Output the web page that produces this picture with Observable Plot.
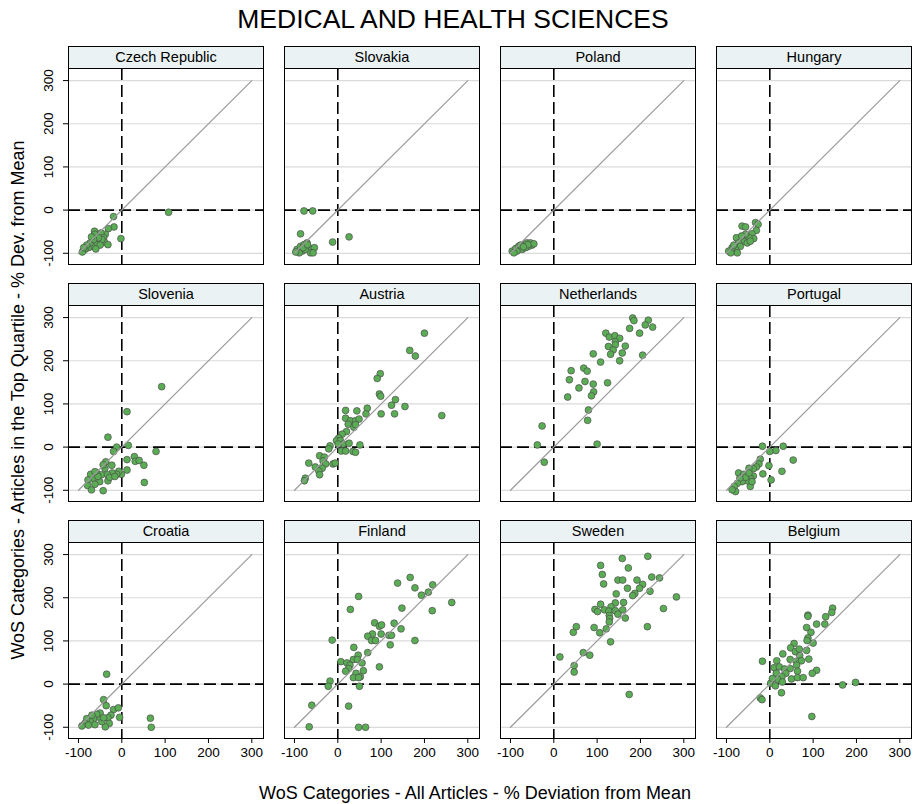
<!DOCTYPE html>
<html>
<head>
<meta charset="utf-8">
<script src="https://cdn.jsdelivr.net/npm/d3@7"></script>
<script src="https://cdn.jsdelivr.net/npm/@observablehq/plot@0.6"></script>
<style>
  body { margin: 0; background: #fff; }
  #wrap { position: relative; width: 917px; height: 804px; font-family: "Liberation Sans", Arial, sans-serif; color: #000; }
  #title { position: absolute; left: 153px; width: 600px; top: 4px; text-align: center; font-size: 26.5px; line-height: 30px; white-space: nowrap; }
  #xlab { position: absolute; left: 175px; width: 600px; top: 783px; text-align: center; font-size: 18px; line-height: 20px; white-space: nowrap; }
  #ylab { position: absolute; left: -382px; width: 800px; top: 390px; height: 20px; text-align: center; font-size: 18px; line-height: 20px; white-space: nowrap; transform: rotate(-90deg); transform-origin: 50% 50%; }
  #chart { position: absolute; left: 0; top: 0; }
</style>
</head>
<body>
<div id="wrap">
  <div id="chart"></div>
  <div id="title">MEDICAL AND HEALTH SCIENCES</div>
  <div id="xlab">WoS Categories - All Articles - % Deviation from Mean</div>
  <div id="ylab">WoS Categories - Articles in the Top Quartile - % Dev. from Mean</div>
</div>
<script>
const countries = ["Czech Republic", "Slovakia", "Poland", "Hungary",
                   "Slovenia", "Austria", "Netherlands", "Portugal",
                   "Croatia", "Finland", "Sweden", "Belgium"];

const ticks = [-100, 0, 100, 200, 300];
const diagonal = [-100, 300];

const czechRepublic = [[108,-5],[-2,-66],[-19,-15],[-18,-39],[-31,-43],[-38,-56],[-63,-49],[-62,-56],[-48,-53],[-42,-64],[-40,-74],[-32,-80],[-52,-72],[-58,-80],[-69,-84],[-77,-87],[-85,-91],[-91,-97],[-73,-76],[-46,-68],[-54,-64],[-65,-68],[-81,-81],[-88,-87],[-50,-81],[-60,-90],[-70,-62]];
const slovakia = [[-78,-2],[-58,-2],[-86,-55],[-12,-74],[26,-62],[-94,-91],[-86,-84],[-78,-80],[-71,-76],[-82,-95],[-67,-87],[-63,-99],[-54,-87],[-57,-99],[-89,-99],[-75,-91],[-97,-97],[-80,-87],[-70,-80]];
const poland = [[-96,-95],[-88,-89],[-81,-84],[-69,-80],[-62,-76],[-54,-76],[-50,-81],[-58,-84],[-73,-91],[-85,-95],[-65,-87],[-77,-81],[-92,-99],[-46,-78],[-60,-80],[-70,-85]];
const hungary = [[-64,-37],[-56,-39],[-33,-29],[-27,-33],[-31,-47],[-41,-55],[-37,-66],[-48,-64],[-60,-72],[-77,-64],[-72,-76],[-68,-84],[-79,-91],[-87,-87],[-95,-95],[-75,-99],[-52,-76],[-45,-72],[-56,-56],[-83,-81],[-65,-60],[-90,-99]];
const slovenia = [[92,140],[12,82],[-32,23],[15,4],[-12,0],[-19,-10],[79,-10],[12,-29],[29,-22],[31,-33],[40,-31],[51,-42],[12,-53],[52,-82],[-23,-42],[-37,-34],[-1,-63],[-7,-56],[-12,-63],[-22,-60],[-39,-49],[-43,-41],[-47,-64],[-33,-64],[-32,-78],[-43,-101],[-51,-80],[-58,-60],[-66,-72],[-72,-63],[-78,-76],[-79,-89],[-70,-99],[-62,-86],[-55,-68],[-28,-70],[-16,-68],[-62,-57]];
const austria = [[200,264],[166,224],[179,211],[98,170],[91,159],[96,123],[99,118],[133,110],[124,97],[155,94],[100,77],[131,77],[240,73],[68,90],[65,77],[18,85],[44,84],[18,67],[29,61],[41,61],[49,65],[24,53],[37,46],[41,52],[20,36],[10,30],[2,21],[-3,15],[6,15],[12,7],[26,9],[51,5],[1,7],[-18,3],[-21,-4],[8,-9],[18,-9],[35,-10],[41,-12],[-42,-20],[-31,-23],[-34,-32],[-28,-39],[-11,-39],[-6,-37],[-67,-37],[-52,-46],[-36,-49],[-44,-55],[-42,-64],[-75,-72],[-77,-78]];
const netherlands = [[182,299],[185,293],[218,294],[211,283],[228,278],[175,275],[198,264],[120,264],[128,255],[141,258],[152,252],[142,244],[142,237],[126,233],[165,234],[137,225],[131,215],[158,218],[91,216],[205,213],[152,200],[108,197],[69,183],[77,176],[40,177],[36,156],[72,152],[91,146],[124,149],[58,137],[92,128],[87,119],[32,116],[80,86],[78,62],[-27,49],[-38,5],[100,7],[-22,-35]];
const portugal = [[-17,2],[31,2],[14,-8],[0,-10],[54,-30],[-22,-28],[-2,-43],[-25,-39],[-31,-46],[-38,-50],[-48,-49],[28,-56],[-16,-62],[3,-76],[-45,-91],[-38,-67],[-45,-72],[-52,-78],[-64,-80],[-72,-60],[-60,-63],[-56,-70],[-69,-72],[-75,-84],[-82,-91],[-79,-103],[-87,-99],[-48,-60],[-41,-80]];
const croatia = [[-35,23],[-42,-36],[-36,-50],[-19,-59],[-8,-55],[-5,-77],[66,-79],[68,-100],[-25,-72],[-32,-78],[-29,-91],[-38,-99],[-46,-87],[-54,-76],[-50,-67],[-58,-70],[-65,-80],[-73,-86],[-81,-80],[-85,-91],[-92,-97],[-77,-95],[-62,-94],[-42,-78],[-69,-72]];
const finland = [[167,247],[138,234],[178,223],[219,230],[209,213],[193,206],[263,189],[48,203],[29,173],[148,176],[218,170],[85,142],[96,134],[101,137],[130,141],[146,128],[80,116],[69,111],[100,116],[118,113],[124,113],[78,101],[87,101],[-13,102],[178,101],[121,91],[37,85],[69,73],[47,67],[36,57],[7,52],[21,49],[45,57],[56,49],[28,44],[96,40],[25,36],[18,30],[59,31],[42,25],[52,17],[36,15],[48,15],[-18,7],[-22,-5],[50,-5],[-60,-49],[25,-51],[-66,-99],[48,-100],[64,-100]];
const sweden = [[217,296],[158,291],[108,275],[172,269],[112,254],[226,248],[244,246],[148,241],[159,241],[192,241],[115,232],[205,231],[198,222],[170,222],[222,215],[144,209],[187,210],[182,205],[283,202],[161,189],[142,188],[108,185],[132,179],[253,175],[95,173],[101,168],[117,172],[127,169],[142,170],[159,172],[148,162],[128,159],[129,152],[165,153],[128,144],[52,133],[93,131],[216,133],[121,128],[45,120],[106,119],[131,98],[68,73],[83,67],[14,63],[47,43],[47,28],[174,-24]];
const belgium = [[145,176],[143,166],[88,160],[88,157],[129,156],[127,139],[108,139],[85,131],[95,120],[88,107],[86,101],[100,95],[56,94],[48,84],[59,75],[68,81],[85,78],[30,70],[69,66],[47,57],[62,53],[73,54],[90,58],[16,54],[-17,53],[10,38],[22,40],[34,35],[47,36],[62,44],[64,30],[108,32],[98,25],[15,25],[37,25],[28,17],[50,12],[64,15],[77,15],[18,11],[29,5],[2,2],[13,-4],[27,-20],[168,-2],[198,4],[-22,-32],[-18,-36],[97,-75],[6,13]];

const series = [czechRepublic, slovakia, poland, hungary, slovenia, austria,
                netherlands, portugal, croatia, finland, sweden, belgium];

const panels = countries.map((name, i) => ({name, col: i % 4, row: Math.floor(i / 4)}));
const points = panels.flatMap((p, i) => series[i].map(([x, y]) => ({x, y, col: p.col, row: p.row})));

const fmt = d => (d < 0 ? "-" + Math.abs(d) : String(d));
const font = '"Liberation Sans", Arial, sans-serif';

const chart = Plot.plot({
  width: 917,
  height: 804,
  marginLeft: 68,
  marginRight: 6,
  marginTop: 67,
  marginBottom: 66,
  style: {fontFamily: font, fontSize: "13.5px", color: "#000", background: "transparent", overflow: "visible"},
  fx: {domain: [0, 1, 2, 3], paddingInner: 21 / 216, paddingOuter: 0, axis: null, label: null},
  fy: {domain: [0, 1, 2], paddingInner: 41.5 / 237.5, paddingOuter: 0, axis: null, label: null},
  x: {domain: [-123, 327], ticks, tickSize: 5, tickFormat: fmt, label: null},
  y: {domain: [-126, 328], ticks, tickSize: 5, tickRotate: -90, tickPadding: 11, tickFormat: fmt, label: null},
  marks: [
    Plot.ruleY(ticks, {stroke: "#dadada", strokeWidth: 1.2}),
    Plot.ruleX([0], {stroke: "#000", strokeWidth: 1.6, strokeDasharray: "12,5"}),
    Plot.ruleY([0], {stroke: "#000", strokeWidth: 1.6, strokeDasharray: "12,5"}),
    Plot.dot(points, {x: "x", y: "y", fx: "col", fy: "row", r: 3.4, fill: "#5bad55", stroke: "#4d4d4d", strokeWidth: 0.7}),
    Plot.line(diagonal, {x: d => d, y: d => d, stroke: "#9c9c9c", strokeWidth: 1.2}),
    Plot.frame({stroke: "#000", strokeWidth: 1}),
    Plot.frame({fill: "#eaf2f3", stroke: "#000", strokeWidth: 1, insetTop: -22, insetBottom: 196}),
    Plot.text(panels, {fx: "col", fy: "row", text: "name", frameAnchor: "top", lineAnchor: "middle", dy: -11, fontSize: 14.5})
  ]
});
document.getElementById("chart").appendChild(chart);
</script>
</body>
</html>
